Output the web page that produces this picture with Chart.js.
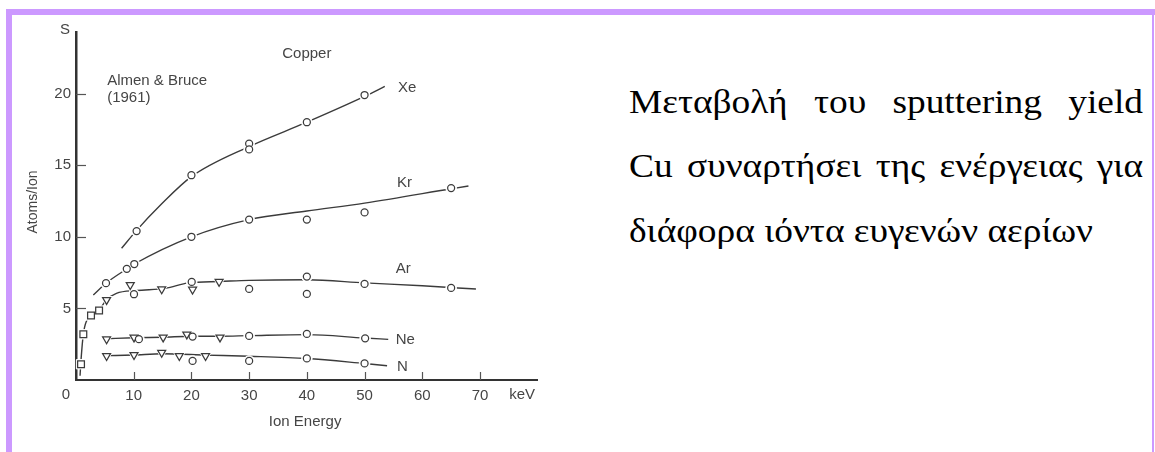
<!DOCTYPE html>
<html>
<head>
<meta charset="utf-8">
<script src="https://cdn.jsdelivr.net/npm/chart.js@4/dist/chart.umd.min.js"></script>
<style>
  html, body { margin: 0; padding: 0; background: #fff; }
  body { width: 1155px; height: 452px; position: relative; overflow: hidden; }
  .band-top { position: absolute; left: 6px; top: 9px; width: 1149px; height: 6px; background: #cc99ff; }
  .band-left { position: absolute; left: 6px; top: 9px; width: 6px; height: 443px; background: #cc99ff; }
  .band-right { position: absolute; left: 1152px; top: 15px; width: 2px; height: 437px; background: #cc99ff; }
  #plot { position: absolute; left: 0; top: 0; width: 600px; height: 452px; filter: blur(0.35px); }
  .caption { position: absolute; left: 629px; top: 69.5px; width: 467.3px;
             transform: scaleX(1.1); transform-origin: 0 0;
             font-family: "Liberation Serif", "Times New Roman", serif; font-size: 34px;
             line-height: 64.5px; color: #000; }
  .caption .just { text-align: justify; text-align-last: justify; }
  .caption .last { white-space: nowrap; }
</style>
</head>
<body>
<div class="band-top"></div>
<div class="band-left"></div>
<div class="band-right"></div>
<div id="plot"><canvas id="chart" width="600" height="452"></canvas></div>
<div class="caption">
  <div class="just">Μεταβολή του sputtering yield</div>
  <div class="just">Cu συναρτήσει της ενέργειας για</div>
  <div class="last">διάφορα ιόντα ευγενών αερίων</div>
</div>
<script>
// Axis ticks
const xTickVals = [10, 20, 30, 40, 50, 60, 70];
const xTickLabels = ['10', '20', '30', '40', '50', '60', '70'];
const yTickVals = [5, 10, 15, 20];
const yTickLabels = ['5', '10', '15', '20'];

// Xe — measured points (circles) and the fitted curve
const xeX = [10.5, 20, 30, 30, 40, 50];
const xeY = [10.4, 14.3, 16.5, 16.1, 18.0, 19.9];
const xeCurveX = [7.9, 10.5, 14.6, 20, 30, 40, 50, 53.5];
const xeCurveY = [9.2, 10.45, 12.2, 14.2, 16.3, 18.0, 19.8, 20.5];

// Kr
const krX = [5.2, 8.8, 10.1, 20, 30, 40, 50, 65];
const krY = [6.76, 7.76, 8.1, 10.0, 11.2, 11.2, 11.7, 13.4];
const krCurveX = [3.0, 5.2, 8.8, 10.1, 20, 30, 40, 50, 65, 68];
const krCurveY = [5.94, 6.76, 7.76, 8.1, 10.0, 11.2, 11.8, 12.35, 13.35, 13.55];

// Ar — circles, triangles and low-energy squares
const arCircX = [10.05, 20.05, 30, 40, 40, 50, 65];
const arCircY = [5.99, 6.85, 6.36, 7.22, 6.01, 6.71, 6.43];
const arTriX = [5.3, 9.4, 14.85, 20.2, 24.8];
const arTriY = [5.6, 6.64, 6.34, 6.32, 6.86];
const arSqX = [0.87, 1.27, 2.6, 4.0];
const arSqY = [1.1, 3.19, 4.5, 4.85];
const arCurveX = [0.7, 0.87, 1.27, 2.6, 4.0, 5.3, 7.0, 10.5, 15.5, 19.5, 25, 30, 40, 50, 60, 69.3];
const arCurveY = [0.3, 1.4, 3.19, 4.5, 4.9, 5.6, 6.05, 6.25, 6.4, 6.78, 6.88, 6.96, 7.0, 6.78, 6.58, 6.35];

// Ne
const neCircX = [10.9, 20.2, 30, 40, 50.1];
const neCircY = [2.85, 3.03, 3.08, 3.22, 2.91];
const neTriX = [5.3, 10.05, 15.1, 19.2, 24.95];
const neTriY = [2.85, 2.98, 2.98, 3.19, 2.98];
const neCurveX = [5.3, 10, 15, 20, 25, 30, 40, 50, 54.1];
const neCurveY = [2.88, 2.95, 2.99, 3.05, 3.06, 3.1, 3.17, 2.93, 2.84];

// N
const nCircX = [20.2, 30, 40, 50];
const nCircY = [1.33, 1.33, 1.51, 1.16];
const nTriX = [5.3, 10.05, 14.85, 17.9, 22.45];
const nTriY = [1.68, 1.75, 1.91, 1.68, 1.68];
const nCurveX = [5.3, 10, 15, 22.5, 30, 40, 50, 53.9];
const nCurveY = [1.7, 1.75, 1.83, 1.74, 1.66, 1.5, 1.15, 1.0];

const INK = '#3b3b3b';
const TEXT = '#454545';
const pts = (xs, ys) => xs.map((x, i) => ({ x, y: ys[i] }));

function curve(xs, ys) {
  return { data: pts(xs, ys), showLine: true, pointRadius: 0, borderColor: INK,
           borderWidth: 1.4, cubicInterpolationMode: 'monotone', fill: false, order: 2, clip: false };
}
// Markers sit on a white halo so the curves break around them
function markers(xs, ys, style, r) {
  const rot = style === 'triangle' ? 180 : 0;
  return [
    { data: pts(xs, ys), showLine: false, pointStyle: style, pointRotation: rot,
      pointRadius: r + 1.8, pointBackgroundColor: '#fff', pointBorderColor: '#fff',
      pointBorderWidth: 1, order: 1, clip: false },
    { data: pts(xs, ys), showLine: false, pointStyle: style, pointRotation: rot,
      pointRadius: r, pointBackgroundColor: '#fff', pointBorderColor: INK,
      pointBorderWidth: 1.25, order: 0, clip: false }
  ];
}

const datasets = [
  curve(xeCurveX, xeCurveY), curve(krCurveX, krCurveY), curve(arCurveX, arCurveY),
  curve(neCurveX, neCurveY), curve(nCurveX, nCurveY),
  ...markers(xeX, xeY, 'circle', 3.5),
  ...markers(krX, krY, 'circle', 3.5),
  ...markers(arCircX, arCircY, 'circle', 3.5),
  ...markers(arTriX, arTriY, 'triangle', 4.6),
  ...markers(arSqX, arSqY, 'rect', 4.8),
  ...markers(neCircX, neCircY, 'circle', 3.5),
  ...markers(neTriX, neTriY, 'triangle', 4.6),
  ...markers(nCircX, nCircY, 'circle', 3.5),
  ...markers(nTriX, nTriY, 'triangle', 4.6)
];

const FONT = '"Liberation Sans", Arial, Helvetica, sans-serif';

// Free text in data coordinates: [text, x, y, align]
const notes = [
  ['Copper', 40, 22.8, 'center'],
  ['Almen & Bruce', 5.4, 20.9, 'left'],
  ['(1961)', 5.4, 19.7, 'left'],
  ['Xe', 55.8, 20.4, 'left'],
  ['Kr', 55.6, 13.8, 'left'],
  ['Ar', 55.4, 7.75, 'left'],
  ['Ne', 55.4, 2.8, 'left'],
  ['N', 55.6, 0.9, 'left']
];

const decor = {
  id: 'decor',
  beforeDatasetsDraw(chart) {
    const { ctx, scales: { x, y } } = chart;
    ctx.save();
    ctx.strokeStyle = '#555';
    ctx.lineWidth = 1.2;
    yTickVals.forEach(v => {
      const py = Math.round(y.getPixelForValue(v)) + 0.5;
      ctx.beginPath(); ctx.moveTo(x.left, py); ctx.lineTo(x.left + 10, py); ctx.stroke();
    });
    xTickVals.forEach(v => {
      const px = Math.round(x.getPixelForValue(v)) + 0.5;
      ctx.beginPath(); ctx.moveTo(px, y.bottom); ctx.lineTo(px, y.bottom - 8); ctx.stroke();
    });
    ctx.restore();
  },
  afterDraw(chart) {
    const { ctx, scales: { x, y } } = chart;
    ctx.save();
    ctx.fillStyle = TEXT;
    ctx.textBaseline = 'middle';
    ctx.font = '15px ' + FONT;
    notes.forEach(([t, vx, vy, al]) => {
      ctx.textAlign = al;
      ctx.fillText(t, x.getPixelForValue(vx), y.getPixelForValue(vy));
    });
    // axis annotations
    ctx.textAlign = 'center';
    ctx.fillText('S', x.left - 11, y.top - 2);
    ctx.fillText('0', x.left - 10, y.bottom + 15);
    ctx.fillText('keV', x.getPixelForValue(77.3), y.bottom + 15);
    ctx.fillText('Ion Energy', x.getPixelForValue(39.7), y.bottom + 42);
    ctx.font = '14px ' + FONT;
    ctx.translate(33, (y.top + y.bottom) / 2 - 4);
    ctx.rotate(-Math.PI / 2);
    ctx.fillText('Atoms/Ion', 0, 0);
    ctx.restore();
  }
};

new Chart(document.getElementById('chart'), {
  type: 'line',
  data: { datasets },
  options: {
    responsive: false,
    animation: false,
    events: [],
    layout: { padding: { left: 0, top: 32, right: 62.3, bottom: 0 } },
    plugins: { legend: { display: false }, tooltip: { enabled: false } },
    scales: {
      x: {
        type: 'linear', min: 0, max: 80,
        border: { display: true, color: '#333', width: 2 },
        grid: { display: true, drawOnChartArea: false, drawTicks: false, color: 'rgba(0,0,0,0)' },
        afterBuildTicks: s => { s.ticks = xTickVals.map(v => ({ value: v })); },
        afterFit: s => { s.height = 72; },
        ticks: { padding: 7, color: TEXT, font: { family: FONT, size: 15 },
                 maxRotation: 0, autoSkip: false,
                 callback: (v, i) => xTickLabels[i] }
      },
      y: {
        type: 'linear', min: 0, max: 24.3,
        border: { display: true, color: '#333', width: 2.5 },
        grid: { display: true, drawOnChartArea: false, drawTicks: false, color: 'rgba(0,0,0,0)' },
        afterBuildTicks: s => { s.ticks = yTickVals.map(v => ({ value: v })); },
        afterFit: s => { s.width = 76; },
        ticks: { padding: 5, color: TEXT, font: { family: FONT, size: 15 },
                 autoSkip: false, callback: (v, i) => yTickLabels[i] }
      }
    }
  },
  plugins: [decor]
});
</script>
</body>
</html>
